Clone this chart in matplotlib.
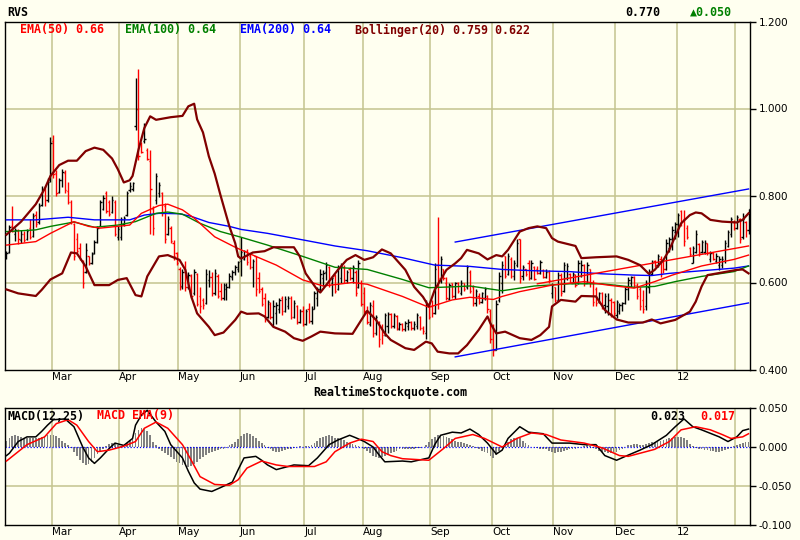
import numpy as np
import pandas as pd
import matplotlib
matplotlib.use('Agg')
import matplotlib.pyplot as plt
from matplotlib.collections import LineCollection

# trading calendar (NYSE closures inside the window)
holidays = ['2011-02-21', '2011-04-22', '2011-05-30', '2011-07-04', '2011-09-05',
            '2011-11-24', '2011-12-26', '2012-01-02', '2012-01-16']
start_date = '2011-02-04'

# daily OHLC
opens = [
    .665, .670, .730, .712, .718, .698, .712, .700, .725, .708,
    .755, .738, .778, .815, .790, .835, .925, .852, .808, .835,
    .852, .810, .785, .735, .700, .680, .650, .625, .660, .645,
    .668, .692, .730, .770, .805, .785, .762, .785, .705, .705,
    .735, .755, .812, .815, .960, 1.000, .920, .925, .905, .880,
    .770, .790, .805, .805, .775, .712, .725, .690, .668, .630,
    .592, .625, .590, .615, .575, .620, .570, .560, .552, .605,
    .612, .575, .615, .580, .565, .585, .590, .612, .625, .630,
    .650, .655, .672, .660, .635, .660, .610, .585, .565, .520,
    .550, .520, .530, .540, .565, .535, .545, .565, .520, .545,
    .510, .535, .505, .540, .512, .540, .565, .585, .610, .625,
    .635, .600, .615, .585, .610, .635, .605, .630, .610, .625,
    .590, .600, .575, .530, .505, .545, .485, .510, .495, .480,
    .500, .528, .500, .522, .492, .505, .492, .500, .510, .495,
    .500, .520, .495, .485, .550, .545, .530, .640, .605, .630,
    .600, .562, .598, .570, .600, .575, .598, .590, .625, .590,
    .552, .570, .555, .565, .570, .535, .500, .445, .560, .600,
    .660, .620, .655, .615, .640, .700, .615, .630, .645, .610,
    .636, .630, .622, .628, .612, .625, .575, .590, .560, .618,
    .580, .610, .620, .600, .618, .598, .615, .640, .600, .630,
    .600, .585, .555, .575, .548, .545, .560, .555, .525, .535,
    .548, .552, .585, .600, .612, .595, .585, .560, .545, .590,
    .620, .650, .640, .655, .648, .630, .680, .700, .715, .735,
    .765, .745, .725, .680, .645, .670, .688, .670, .670, .690,
    .655, .668, .650, .640, .640, .650, .685, .712, .740, .725,
    .745, .705, .740, .720]
highs = [
    .672, .732, .775, .725, .722, .720, .718, .722, .745, .760,
    .765, .782, .822, .822, .840, .935, .940, .858, .840, .862,
    .858, .830, .790, .736, .713, .690, .652, .690, .662, .670,
    .698, .729, .790, .801, .810, .790, .800, .790, .729, .750,
    .752, .810, .830, .832, 1.070, 1.090, .924, .966, .909, .905,
    .775, .852, .832, .809, .782, .752, .729, .698, .671, .636,
    .630, .650, .625, .620, .630, .622, .590, .565, .630, .628,
    .625, .630, .620, .598, .600, .598, .622, .628, .640, .650,
    .705, .675, .676, .665, .655, .662, .625, .590, .575, .560,
    .555, .560, .555, .565, .568, .568, .570, .568, .560, .548,
    .540, .545, .540, .552, .545, .580, .590, .630, .628, .648,
    .637, .615, .620, .640, .645, .640, .628, .636, .640, .628,
    .652, .605, .590, .545, .555, .560, .525, .512, .505, .530,
    .532, .530, .530, .525, .510, .508, .512, .515, .512, .512,
    .530, .522, .500, .560, .552, .560, .645, .750, .662, .632,
    .612, .600, .600, .602, .602, .606, .600, .640, .628, .595,
    .585, .575, .578, .590, .572, .540, .505, .560, .625, .650,
    .660, .668, .658, .652, .700, .700, .640, .632, .652, .652,
    .637, .637, .652, .630, .630, .628, .600, .590, .625, .622,
    .648, .645, .622, .625, .620, .652, .652, .642, .648, .632,
    .606, .590, .578, .578, .575, .575, .565, .558, .560, .552,
    .555, .590, .612, .615, .615, .598, .590, .582, .606, .630,
    .652, .652, .665, .660, .652, .700, .705, .729, .740, .760,
    .767, .767, .732, .682, .683, .721, .690, .698, .698, .691,
    .672, .670, .667, .660, .660, .698, .721, .750, .744, .756,
    .748, .760, .742, .770]
lows = [
    .655, .668, .715, .695, .688, .690, .692, .698, .700, .705,
    .728, .735, .775, .775, .785, .830, .840, .800, .805, .820,
    .805, .780, .735, .652, .667, .652, .587, .621, .640, .642,
    .665, .690, .729, .767, .759, .752, .760, .706, .698, .698,
    .729, .752, .808, .810, .950, .882, .897, .920, .882, .712,
    .710, .780, .797, .752, .690, .709, .690, .652, .640, .583,
    .585, .580, .585, .565, .572, .545, .530, .540, .550, .590,
    .570, .572, .565, .560, .560, .560, .588, .605, .618, .625,
    .615, .652, .640, .630, .590, .570, .575, .545, .510, .518,
    .515, .500, .505, .530, .525, .532, .540, .515, .518, .505,
    .508, .500, .503, .508, .505, .538, .545, .580, .592, .605,
    .590, .568, .575, .582, .600, .600, .598, .605, .600, .568,
    .588, .545, .525, .505, .500, .475, .480, .452, .458, .478,
    .485, .495, .495, .490, .490, .488, .488, .490, .490, .490,
    .492, .490, .482, .470, .515, .520, .528, .540, .600, .605,
    .560, .560, .565, .562, .575, .572, .580, .585, .575, .545,
    .545, .550, .552, .560, .530, .460, .430, .445, .555, .575,
    .610, .618, .610, .605, .635, .600, .605, .615, .605, .608,
    .605, .620, .620, .610, .610, .600, .565, .555, .558, .568,
    .578, .605, .598, .598, .590, .596, .612, .592, .598, .590,
    .545, .545, .552, .540, .530, .525, .520, .520, .518, .528,
    .535, .550, .560, .590, .590, .562, .537, .530, .537, .575,
    .618, .635, .636, .612, .622, .628, .670, .675, .700, .705,
    .730, .683, .700, .660, .644, .667, .662, .667, .665, .664,
    .648, .652, .645, .628, .633, .644, .682, .705, .720, .722,
    .690, .700, .705, .712]
closes = [
    .668, .728, .718, .720, .700, .712, .698, .718, .705, .752,
    .735, .775, .815, .790, .832, .920, .850, .805, .835, .855,
    .812, .785, .740, .660, .672, .655, .600, .675, .645, .665,
    .692, .725, .785, .795, .765, .758, .790, .712, .722, .745,
    .748, .805, .822, .828, 1.000, .890, .900, .930, .885, .815,
    .725, .845, .825, .760, .700, .745, .695, .660, .645, .590,
    .625, .590, .618, .570, .625, .550, .545, .548, .620, .612,
    .575, .622, .570, .565, .595, .590, .615, .625, .635, .648,
    .670, .672, .648, .635, .650, .585, .580, .550, .520, .555,
    .520, .545, .548, .560, .535, .562, .565, .520, .552, .510,
    .535, .505, .535, .512, .540, .575, .585, .620, .622, .640,
    .595, .610, .580, .635, .638, .605, .625, .610, .635, .575,
    .645, .550, .535, .510, .548, .485, .520, .470, .480, .525,
    .528, .500, .525, .495, .505, .492, .508, .510, .495, .505,
    .525, .495, .488, .550, .520, .530, .630, .610, .655, .610,
    .565, .595, .570, .598, .580, .600, .585, .635, .580, .552,
    .580, .555, .575, .585, .540, .470, .445, .550, .615, .640,
    .615, .660, .615, .645, .690, .610, .635, .620, .610, .645,
    .608, .622, .648, .612, .625, .605, .595, .560, .618, .575,
    .640, .638, .602, .620, .595, .645, .640, .600, .640, .598,
    .555, .552, .575, .545, .570, .560, .528, .530, .555, .548,
    .552, .585, .605, .612, .595, .568, .545, .540, .600, .625,
    .648, .640, .660, .620, .630, .690, .700, .720, .735, .755,
    .738, .695, .705, .665, .680, .712, .668, .692, .690, .668,
    .668, .655, .662, .655, .655, .690, .715, .745, .725, .750,
    .700, .745, .720, .770]

# indicator lines, read at sample days (bar index)
ema50_days = [0, 10, 15, 23, 28, 32, 42, 46, 52, 55, 60, 64, 71, 78, 85, 92, 101, 108,
              118, 123, 135, 144, 152, 158, 166, 169, 175, 186, 197, 205, 214, 221, 227,
              237, 248, 253]
ema50_vals = [.686, .694, .713, .740, .729, .725, .732, .759, .777, .780, .767, .748,
              .705, .681, .660, .640, .606, .592, .600, .596, .568, .543, .560, .566,
              .561, .568, .579, .594, .602, .594, .587, .602, .617, .638, .653, .663]
ema100_days = [0, 10, 15, 23, 30, 38, 44, 51, 55, 60, 66, 73, 80, 89, 101, 112, 123,
               135, 144, 152, 158, 169, 180, 192, 203, 214, 221, 228, 237, 248, 253]
ema100_vals = [.717, .721, .729, .739, .727, .732, .740, .759, .762, .757, .736, .717,
               .704, .686, .660, .635, .630, .607, .588, .590, .592, .581, .592, .597,
               .597, .589, .591, .602, .614, .625, .638]
ema200_days = [0, 10, 21, 30, 42, 47, 52, 59, 63, 69, 76, 80, 89, 101, 112, 123, 135,
               146, 158, 169, 180, 192, 203, 214, 220, 226, 237, 248, 253]
ema200_vals = [.744, .744, .750, .744, .744, .755, .759, .758, .752, .738, .729, .722,
               .713, .698, .684, .673, .657, .640, .637, .630, .627, .625, .620, .617,
               .616, .621, .627, .633, .638]

bb_up_days = [0, 5, 10, 13, 15, 18, 21, 24, 27, 30, 33, 36, 38, 40, 42, 43, 45, 47, 49,
              51, 56, 60, 62, 64, 65, 67, 69, 71, 73, 76, 78, 79, 80, 82, 84, 88, 91, 98,
              100, 102, 106, 107, 109, 113, 116, 119, 122, 125, 128, 131, 136, 139, 142,
              144, 146, 150, 153, 155, 157, 161, 164, 167, 169, 171, 175, 178, 181, 184,
              186, 188, 194, 196, 201, 208, 212, 216, 219, 221, 224, 226, 228, 230, 233,
              235, 237, 240, 244, 249, 251, 253]
bb_up_vals = [.710, .740, .780, .815, .845, .870, .880, .880, .902, .910, .905, .885,
              .860, .830, .835, .845, .905, .955, .982, .974, .980, .983, 1.005, 1.011,
              .975, .945, .890, .850, .800, .729, .690, .660, .655, .662, .669, .672,
              .681, .681, .660, .621, .583, .577, .594, .629, .652, .663, .652, .658,
              .676, .667, .629, .590, .567, .545, .583, .629, .644, .656, .675, .667,
              .653, .663, .660, .675, .717, .725, .729, .725, .702, .694, .684, .656,
              .658, .660, .652, .640, .620, .629, .652, .675, .706, .736, .755, .761,
              .759, .744, .740, .738, .744, .759]
bb_lo_days = [0, 4, 10, 12, 15, 19, 22, 24, 27, 30, 35, 38, 41, 44, 46, 48, 52, 55, 59,
              61, 63, 65, 69, 71, 74, 78, 80, 82, 86, 88, 91, 95, 98, 101, 104, 107, 112,
              118, 121, 123, 126, 129, 131, 136, 139, 143, 145, 147, 151, 154, 157, 161,
              164, 165, 167, 170, 175, 179, 182, 185, 186, 189, 194, 196, 201, 204, 208,
              212, 217, 220, 223, 228, 233, 235, 237, 239, 244, 249, 251, 253]
bb_lo_vals = [.584, .575, .569, .583, .607, .621, .669, .667, .637, .594, .594, .606,
              .610, .571, .568, .614, .660, .663, .652, .629, .568, .529, .498, .479,
              .485, .514, .533, .528, .529, .522, .498, .487, .472, .466, .476, .487,
              .483, .482, .514, .535, .514, .483, .468, .449, .445, .464, .460, .441,
              .437, .437, .456, .491, .522, .506, .483, .487, .472, .468, .479, .498,
              .545, .560, .556, .569, .568, .537, .515, .508, .508, .515, .506, .514,
              .533, .556, .591, .617, .623, .629, .630, .621]

# drawn trend channel
chan_days = [153, 253]
chan_upper = [.693, .815]
chan_lower = [.429, .553]
mid_days = [181, 253]
mid_vals = [.597, .684]

# MACD panel
macd_days = [0, 1, 4, 7, 10, 12, 14, 16, 20, 23, 26, 28, 30, 32, 35, 37, 40, 43, 44, 46,
             48, 51, 54, 56, 60, 62, 64, 66, 70, 73, 77, 79, 81, 85, 87, 89, 92, 95, 98,
             103, 106, 110, 113, 117, 119, 122, 125, 127, 129, 135, 138, 144, 146, 148,
             152, 155, 158, 161, 164, 167, 169, 171, 175, 178, 183, 186, 192, 197, 201,
             204, 208, 211, 216, 220, 225, 228, 231, 234, 237, 243, 246, 249, 251, 253]
macd_vals = [-.011, -.008, .007, .013, .013, .020, .028, .035, .036, .026, .000, -.014,
             -.021, -.014, -.002, .005, .002, .011, .028, .041, .047, .032, .020, .003,
             -.014, -.031, -.046, -.054, -.057, -.052, -.045, -.029, -.014, -.012, -.017,
             -.023, -.029, -.026, -.023, -.024, -.014, .003, .009, .015, .012, .007, .000,
             -.010, -.019, -.018, -.019, -.014, .003, .015, .019, .018, .023, .016, .005,
             -.009, -.004, .011, .026, .019, .017, .005, .005, .003, .003, -.011, -.017,
             -.012, -.004, .003, .015, .026, .036, .026, .022, .013, .007, .013, .021,
             .023]
signal_days = [0, 7, 13, 17, 21, 24, 28, 31, 35, 40, 44, 47, 51, 55, 60, 63, 66, 71, 76,
               79, 82, 87, 92, 96, 105, 109, 112, 117, 121, 125, 128, 131, 135, 144, 149,
               153, 159, 163, 169, 174, 179, 184, 189, 197, 203, 209, 212, 217, 221, 226,
               230, 235, 240, 244, 247, 251, 253]
signal_vals = [-.018, .003, .013, .030, .035, .028, .007, -.006, -.004, .001, .007, .024,
               .032, .024, .003, -.017, -.038, -.048, -.049, -.042, -.027, -.018, -.023,
               -.025, -.025, -.019, -.006, .005, .010, .007, -.006, -.011, -.015, -.017,
               -.002, .011, .016, .011, .000, .011, .018, .016, .009, .005, -.001, -.011,
               -.012, -.007, -.003, .007, .022, .026, .022, .016, .011, .013, .017]
# histogram, in thousandths
hist_x1000 = [
    8, 12, 14, 15, 14, 13, 12, 12, 11, 11,
    11, 12, 13, 14, 15, 16, 16, 14, 11, 8,
    5, 2, -1, -6, -12, -17, -21, -23, -22, -19,
    -14, -9, -6, -3, 1, 4, 5, 5, 3, 1,
    0, 5, 9, 12, 18, 22, 24, 23, 20, 15,
    6, 2, -3, -5, -8, -10, -13, -16, -19, -21,
    -23, -24, -25, -24, -22, -19, -16, -13, -10, -8,
    -6, -5, -4, -3, -2, -1, 2, 4, 7, 10,
    14, 17, 18, 17, 14, 11, 8, 5, 2, -1,
    -3, -5, -6, -6, -5, -4, -3, -2, -1, 0,
    1, 0, 1, 1, 3, 5, 8, 11, 13, 14,
    15, 14, 12, 11, 10, 9, 7, 5, 4, 2,
    1, 0, -2, -5, -8, -11, -13, -14, -13, -11,
    -10, -8, -6, -5, -3, -2, -2, -2, -2, -2,
    -1, -1, 0, 2, 6, 10, 13, 15, 15, 14,
    13, 12, 10, 8, 7, 6, 5, 4, 3, 1,
    -1, -3, -5, -6, -8, -11, -14, -10, -5, -1,
    3, 7, 10, 12, 12, 11, 8, 5, 2, 0,
    -1, -1, -2, -2, -3, -5, -7, -8, -7, -6,
    -5, -4, -3, -3, -2, -1, 0, 1, 2, 1,
    -1, -3, -5, -6, -7, -8, -8, -7, -6, -4,
    -2, 0, 2, 3, 4, 4, 3, 3, 4, 5,
    6, 6, 7, 8, 9, 10, 11, 12, 13, 13,
    13, 12, 9, 4, 1, -1, -2, -3, -4, -4,
    -5, -5, -6, -6, -5, -4, -3, -1, 1, 3,
    4, 5, 6, 6]

BG = '#fffff0'
GRID = '#c4c48f'
DARKRED = '#800000'
MONO = ['DejaVu Sans Mono', 'DejaVu Sans']

n = len(closes)
dates = pd.bdate_range(start_date, periods=n, freq='C', holidays=holidays)
month_idx = [i for i in range(1, n) if dates[i].month != dates[i - 1].month]

W, H = 800, 540
fig = plt.figure(figsize=(W / 100, H / 100), dpi=100, facecolor=BG)
ax = fig.add_axes([5 / W, 1 - 369.5 / H, 745 / W, 348 / H])
mx = fig.add_axes([5 / W, 1 - 525 / H, 745 / W, 117 / H])


def px(x, y):
    return x / W, 1 - y / H


for a in (ax, mx):
    a.set_facecolor(BG)
    a.set_xlim(-0.5, n - 0.5)
    for s in a.spines.values():
        s.set_color('black')
        s.set_linewidth(1)
    a.set_xticks([])
    a.yaxis.tick_right()
    a.tick_params(axis='y', direction='out', length=4, width=1, pad=2,
                  labelsize=7.5, colors='black')
    for i in month_idx:
        a.axvline(i - 0.5, color=GRID, lw=1.1, zorder=0)

# month labels
for i in month_idx:
    d = dates[i]
    lab = d.strftime('%y') if d.month == 1 else d.strftime('%b')
    if i > n - 8:
        continue
    for a, yy in ((ax, -0.022), (mx, -0.06)):
        a.text(i - 0.5, yy, lab, transform=a.get_xaxis_transform(),
               ha='left', va='center', fontsize=7.5)

# ---- price panel
ax.set_ylim(0.4, 1.2)
ticks = [0.4, 0.6, 0.8, 1.0, 1.2]
ax.set_yticks(ticks)
ax.set_yticklabels(['%.3f' % t for t in ticks])
for t in ticks[1:-1]:
    ax.axhline(t, color=GRID, lw=1.1, zorder=0)

segs, cols = [], []
for i in range(n):
    c = 'black' if closes[i] >= opens[i] else '#ff0000'
    segs.append([(i, lows[i]), (i, highs[i])])
    segs.append([(i - 0.45, opens[i]), (i, opens[i])])
    segs.append([(i, closes[i]), (i + 0.45, closes[i])])
    cols += [c] * 3
ax.add_collection(LineCollection(segs, colors=cols, linewidths=1.0, zorder=2))

ax.plot(ema200_days, ema200_vals, color='#0000ff', lw=1.0, zorder=3)
ax.plot(ema100_days, ema100_vals, color='#008000', lw=1.0, zorder=3)
ax.plot(ema50_days, ema50_vals, color='#ff0000', lw=1.0, zorder=3)
ax.plot(bb_up_days, bb_up_vals, color=DARKRED, lw=1.6, zorder=4)
ax.plot(bb_lo_days, bb_lo_vals, color=DARKRED, lw=1.6, zorder=4)
ax.plot(chan_days, chan_upper, color='#0000ff', lw=1.0, zorder=3)
ax.plot(chan_days, chan_lower, color='#0000ff', lw=1.0, zorder=3)
ax.plot(mid_days, mid_vals, color='#ff0000', lw=1.0, zorder=3)

# ---- MACD panel
mx.set_ylim(-0.1, 0.05)
mt = [-0.1, -0.05, 0.0, 0.05]
mx.set_yticks(mt)
mx.set_yticklabels(['%.3f' % t for t in mt])
mx.axhline(-0.05, color=GRID, lw=1.1, zorder=0)
hist = np.array(hist_x1000) / 1000.0
mx.bar(np.arange(n), hist, width=0.6, color='#808080', zorder=1)
mx.axhline(0, color='#0000ff', lw=0.9, ls=(0, (1, 1.5)), zorder=2)
mx.plot(macd_days, macd_vals, color='black', lw=1.1, zorder=3)
mx.plot(signal_days, signal_vals, color='#ff0000', lw=1.1, zorder=3)

# ---- texts
fs = 8.4


def label(x, y, s, color='black', ha='left'):
    fig.text(*px(x, y), s, ha=ha, va='center', fontsize=fs, family=MONO,
             weight='bold', color=color)


label(7, 12, 'RVS')
label(625, 12, '%.3f' % closes[-1])
label(690, 12, '\u25b2%.3f' % (closes[-1] - closes[-2]), color='#008000')
label(19.5, 30, 'EMA(50) 0.66', color='#ff0000')
label(124.5, 30, 'EMA(100) 0.64', color='#008000')
label(240, 30, 'EMA(200) 0.64', color='#0000ff')
label(355, 30, 'Bollinger(20) 0.759 0.622', color=DARKRED)
label(390, 392, 'RealtimeStockquote.com', ha='center')
label(7, 416, 'MACD(12,25)')
label(97, 416, 'MACD EMA(9)', color='#ff0000')
label(650, 416, '0.023')
label(700, 416, '0.017', color='#ff0000')

fig.savefig('out.png', dpi=100, facecolor=BG)
